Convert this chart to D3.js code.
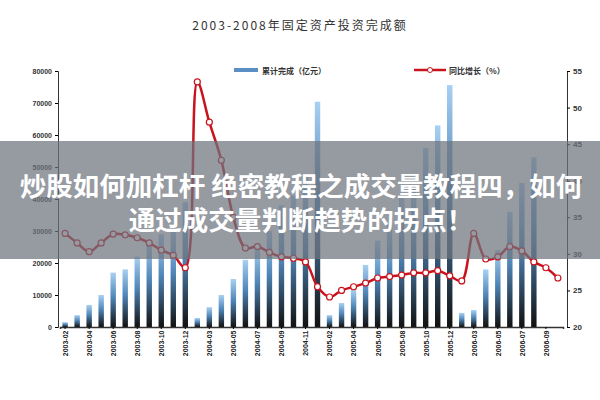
<!DOCTYPE html>
<html><head><meta charset="utf-8">
<script src="https://d3js.org/d3.v7.min.js"></script>
<style>body{margin:0;background:#fff}</style></head>
<body><svg id="c" width="600" height="400"></svg>
<script>
const months = ["2003-02","2003-03","2003-04","2003-05","2003-06","2003-07","2003-08","2003-09","2003-10","2003-11","2003-12",
"2004-02","2004-03","2004-04","2004-05","2004-06","2004-07","2004-08","2004-09","2004-10","2004-11","2004-12",
"2005-02","2005-03","2005-04","2005-05","2005-06","2005-07","2005-08","2005-09","2005-10","2005-11","2005-12",
"2006-02","2006-03","2006-04","2006-05","2006-06","2006-07","2006-08","2006-09","2006-10"];
const cumulative = [1500,3700,6900,10000,17000,18000,22000,27000,29000,31000,39000,
2800,6200,10000,15000,21000,25000,30000,38000,41000,47000,70400,
3700,7500,11500,19400,27000,32000,40600,44000,56000,63000,75600,
4400,5300,18000,24000,36000,45000,53000,0,0];
const growth = [32.8,31.5,30.3,31.5,32.7,32.6,32.2,31.5,30.5,29.8,28.1,
53.5,48,42.8,35,30.8,31,30.2,29.6,29.4,28.9,25.5,
24.1,25,25.5,26,26.7,26.9,27.1,27.4,27.4,27.7,27,
26.3,32.8,29.3,29.6,31,30.4,28.9,28.1,26.7];
const leftTicks = [0,10000,20000,30000,40000,50000,60000,70000,80000];
const rightTicks = [20,25,30,35,40,45,50,55];
const title = "2003-2008年固定资产投资完成额";
const legendBar = "累计完成（亿元）", legendLine = "同比增长（%）";
const banner = ["炒股如何加杠杆 绝密教程之成交量教程四，如何","通过成交量判断趋势的拐点！"];

const svg = d3.select("#c");
const L=58,R=567,T=71,B=327;
const x = d3.scaleBand().domain(months).range([L+2,R-4]).paddingInner(0.55).paddingOuter(0.2);
const y = d3.scaleLinear().domain([0,80000]).range([B,T]);
const y2 = d3.scaleLinear().domain([20,55]).range([B,T]);
const defs = svg.append("defs");
const g = defs.append("linearGradient").attr("id","bg").attr("x1",0).attr("y1",0).attr("x2",0).attr("y2",1);
g.append("stop").attr("offset","0%").attr("stop-color","#a8d0f2");
g.append("stop").attr("offset","45%").attr("stop-color","#4f86b8");
g.append("stop").attr("offset","100%").attr("stop-color","#111");

svg.append("text").attr("x",300).attr("y",30).attr("text-anchor","middle").attr("font-family","Noto Sans CJK SC").attr("font-size",12).attr("fill","#333").attr("letter-spacing",2).text(title);

svg.append("g").selectAll("rect").data(months).join("rect")
 .attr("x",d=>x(d)).attr("width",x.bandwidth()).attr("y",(d,i)=>y(cumulative[i])).attr("height",(d,i)=>B-y(cumulative[i])).attr("fill","url(#bg)");

const ax = svg.append("g").attr("font-family","DejaVu Sans").attr("font-weight","bold");
ax.append("g").attr("transform",`translate(${L},0)`).call(d3.axisLeft(y).tickValues(leftTicks).tickSize(3).tickFormat(d=>d3.format("d")(d)))
 .call(s=>{s.selectAll("text").attr("font-size",7).attr("fill","#333");s.select(".domain").attr("stroke","#333")});
ax.append("g").attr("transform",`translate(${R},0)`).call(d3.axisRight(y2).tickValues(rightTicks).tickSize(3))
 .call(s=>{s.selectAll("text").attr("font-size",8).attr("fill","#333");s.select(".domain").attr("stroke","#333")});
ax.append("g").attr("transform",`translate(0,${B})`).call(d3.axisBottom(x).tickValues(months.filter((d,i)=>i%2===0)).tickSize(2))
 .call(s=>{s.select(".domain").attr("stroke","#333").attr("stroke-width",1.5);
   s.selectAll("text").attr("font-size",7).attr("fill","#222").attr("text-anchor","end").attr("transform","rotate(-90)").attr("dx","-0.5em").attr("dy","-0.3em")});

const line = d3.line().x((d,i)=>x(months[i])+x.bandwidth()/2).y(d=>y2(d)).curve(d3.curveCatmullRom);
svg.append("path").datum(growth).attr("d",line).attr("fill","none").attr("stroke","#c8141e").attr("stroke-width",2.5);
svg.append("g").selectAll("circle").data(growth).join("circle")
 .attr("cx",(d,i)=>x(months[i])+x.bandwidth()/2).attr("cy",d=>y2(d)).attr("r",3).attr("fill","#fff").attr("stroke","#c8141e").attr("stroke-width",1.2);

const lg = svg.append("g").attr("font-family","Noto Sans CJK SC").attr("font-size",8).attr("font-weight","bold").attr("fill","#333");
lg.append("rect").attr("x",234).attr("y",68).attr("width",24).attr("height",4).attr("fill","#5b8fc4");
lg.append("text").attr("x",262).attr("y",74).text(legendBar);
lg.append("line").attr("x1",414).attr("x2",446).attr("y1",70).attr("y2",70).attr("stroke","#c8141e").attr("stroke-width",2.5);
lg.append("circle").attr("cx",430).attr("cy",70).attr("r",2.5).attr("fill","#fff").attr("stroke","#c8141e");
lg.append("text").attr("x",449).attr("y",74).text(legendLine);

svg.append("rect").attr("x",0).attr("y",141).attr("width",600).attr("height",118).attr("fill","rgb(110,115,125)").attr("opacity",0.72);
svg.append("g").selectAll("text").data(banner).join("text").attr("x",301).attr("y",(d,i)=>196+i*34).attr("text-anchor","middle")
 .attr("font-family","Noto Sans CJK SC").attr("font-weight","bold").attr("font-size",26.5).attr("fill","#fff").text(d=>d);
</script></body></html>
